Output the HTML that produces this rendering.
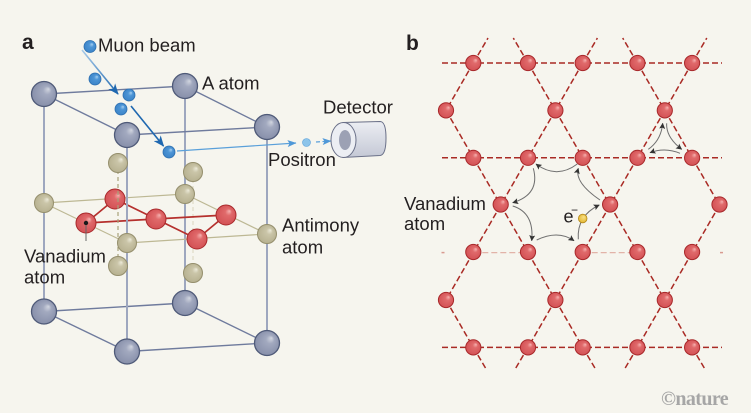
<!DOCTYPE html>
<html><head><meta charset="utf-8">
<style>
html,body{margin:0;padding:0;background:#f6f5ee;}
svg{display:block;}
text{font-family:"Liberation Sans",sans-serif;fill:#231f20;}
</style></head>
<body>
<svg width="751" height="413" viewBox="0 0 751 413" xmlns="http://www.w3.org/2000/svg">
<defs>
  <radialGradient id="gG" cx="0.5" cy="0.5" r="0.55" fx="0.68" fy="0.3">
    <stop offset="0" stop-color="#d2d6e0"/><stop offset="0.3" stop-color="#a2a9bf"/><stop offset="1" stop-color="#858da8"/>
  </radialGradient>
  <radialGradient id="gR" cx="0.5" cy="0.5" r="0.55" fx="0.68" fy="0.3">
    <stop offset="0" stop-color="#f6b4b2"/><stop offset="0.3" stop-color="#e06a6b"/><stop offset="1" stop-color="#d24f53"/>
  </radialGradient>
  <radialGradient id="gB" cx="0.5" cy="0.5" r="0.55" fx="0.68" fy="0.3">
    <stop offset="0" stop-color="#ecead9"/><stop offset="0.3" stop-color="#cac5a8"/><stop offset="1" stop-color="#b5af8e"/>
  </radialGradient>
  <radialGradient id="gU" cx="0.5" cy="0.5" r="0.55" fx="0.68" fy="0.3">
    <stop offset="0" stop-color="#a8d0f0"/><stop offset="0.35" stop-color="#4d95d6"/><stop offset="1" stop-color="#3a82c6"/>
  </radialGradient>
  <radialGradient id="gY" cx="0.5" cy="0.5" r="0.55" fx="0.65" fy="0.3">
    <stop offset="0" stop-color="#f8e18a"/><stop offset="1" stop-color="#e2b52c"/>
  </radialGradient>
  <linearGradient id="det" x1="0" y1="0" x2="0" y2="1">
    <stop offset="0" stop-color="#eceef3"/><stop offset="1" stop-color="#c4c8d5"/>
  </linearGradient>
  <linearGradient id="mu1" x1="0" y1="0" x2="1" y2="1">
    <stop offset="0" stop-color="#a9cbe9"/><stop offset="1" stop-color="#1f68b0"/>
  </linearGradient>
  <marker id="ab" markerWidth="11" markerHeight="9" refX="10" refY="4.5" orient="auto" markerUnits="userSpaceOnUse">
    <path d="M0,0 L11,4.5 L0,9 L3,4.5z" fill="#1f68b0"/>
  </marker>
  <marker id="ap" markerWidth="9" markerHeight="7" refX="8.5" refY="3.5" orient="auto" markerUnits="userSpaceOnUse">
    <path d="M0,0 L9,3.5 L0,7 L2,3.5z" fill="#4f98d8"/>
  </marker>
  <marker id="ak" markerWidth="6" markerHeight="6" refX="5.5" refY="3" orient="auto" markerUnits="userSpaceOnUse">
    <path d="M0,0 L6,3 L0,6 L1.2,3z" fill="#333"/>
  </marker>
</defs>

<rect width="751" height="413" fill="#f6f5ee"/>

<!-- ================= PANEL A ================= -->
<text x="22" y="49" style="font-weight:bold;font-size:21px">a</text>

<g stroke="#9ea7bf" stroke-width="2">
  <line x1="185" y1="86" x2="185" y2="303"/>
  <line x1="44" y1="94" x2="44" y2="311.5"/>
  <line x1="267" y1="127" x2="267" y2="343"/>
</g>
<g stroke="#6f7b9d" stroke-width="1.4">
  <line x1="44" y1="94" x2="185" y2="86"/>
  <line x1="44" y1="94" x2="127" y2="135"/>
  <line x1="127" y1="135" x2="267" y2="127"/>
  <line x1="185" y1="86" x2="267" y2="127"/>
  <line x1="44" y1="311.5" x2="185" y2="303"/>
  <line x1="44" y1="311.5" x2="127" y2="351.5"/>
  <line x1="127" y1="351.5" x2="267" y2="343"/>
  <line x1="185" y1="303" x2="267" y2="343"/>
</g>
<g stroke="#bdb894" stroke-width="1.2">
  <line x1="44" y1="203" x2="185" y2="194"/>
  <line x1="44" y1="203" x2="127" y2="243"/>
  <line x1="127" y1="243" x2="267" y2="234"/>
  <line x1="185" y1="194" x2="267" y2="234"/>
</g>
<line x1="193" y1="172" x2="193" y2="273" stroke="#dedac6" stroke-width="1.2" stroke-dasharray="4 3"/>
<circle cx="193" cy="172" r="9.5" fill="url(#gB)" stroke="#958f6d" stroke-width="1"/>
<circle cx="193" cy="273" r="9.5" fill="url(#gB)" stroke="#958f6d" stroke-width="1"/>
<circle cx="185" cy="194" r="9.5" fill="url(#gB)" stroke="#958f6d" stroke-width="1"/>
<circle cx="44" cy="203" r="9.5" fill="url(#gB)" stroke="#958f6d" stroke-width="1"/>
<circle cx="267" cy="234" r="9.5" fill="url(#gB)" stroke="#958f6d" stroke-width="1"/>

<g stroke="#b5302d" stroke-width="1.7">
  <line x1="86" y1="223" x2="115" y2="199"/>
  <line x1="115" y1="199" x2="156" y2="219"/>
  <line x1="156" y1="219" x2="197" y2="239"/>
  <line x1="197" y1="239" x2="226" y2="215"/>
  <line x1="86" y1="223" x2="226" y2="215"/>
</g>
<circle cx="115" cy="199" r="10" fill="url(#gR)" stroke="#a8292b" stroke-width="1"/>
<circle cx="226" cy="215" r="10" fill="url(#gR)" stroke="#a8292b" stroke-width="1"/>
<circle cx="156" cy="219" r="10" fill="url(#gR)" stroke="#a8292b" stroke-width="1"/>
<circle cx="86" cy="223" r="10" fill="url(#gR)" stroke="#a8292b" stroke-width="1"/>
<circle cx="197" cy="239" r="10" fill="url(#gR)" stroke="#a8292b" stroke-width="1"/>
<circle cx="86" cy="223" r="2.2" fill="#1a1a1a"/>
<line x1="86" y1="225" x2="86" y2="241" stroke="#666" stroke-width="1"/>

<line x1="127" y1="135" x2="127" y2="351.5" stroke="#9ea7bf" stroke-width="2"/>
<line x1="118" y1="163" x2="118" y2="266" stroke="#a8a27a" stroke-width="1.2" stroke-dasharray="4 3"/>
<circle cx="118" cy="163" r="9.5" fill="url(#gB)" stroke="#958f6d" stroke-width="1"/>
<circle cx="118" cy="266" r="9.5" fill="url(#gB)" stroke="#958f6d" stroke-width="1"/>
<circle cx="127" cy="243" r="9.5" fill="url(#gB)" stroke="#958f6d" stroke-width="1"/>

<g fill="url(#gG)" stroke="#4f5a78" stroke-width="1.3">
  <circle cx="44" cy="94" r="12.5"/>
  <circle cx="185" cy="86" r="12.5"/>
  <circle cx="127" cy="135" r="12.5"/>
  <circle cx="267" cy="127" r="12.5"/>
  <circle cx="44" cy="311.5" r="12.5"/>
  <circle cx="185" cy="303" r="12.5"/>
  <circle cx="127" cy="351.5" r="12.5"/>
  <circle cx="267" cy="343" r="12.5"/>
</g>

<line x1="82" y1="50" x2="118" y2="94" stroke="url(#mu1)" stroke-width="1.6" marker-end="url(#ab)"/>
<line x1="131" y1="106" x2="163.5" y2="146" stroke="#1f68b0" stroke-width="1.6" marker-end="url(#ab)"/>
<line x1="177" y1="151" x2="296" y2="143" stroke="#5aa0da" stroke-width="1.2" marker-end="url(#ap)"/>
<g fill="url(#gU)" stroke="#2d6fb0" stroke-width="0.8">
  <circle cx="90" cy="46.5" r="6"/>
  <circle cx="95" cy="79" r="6"/>
  <circle cx="129" cy="95" r="6"/>
  <circle cx="121" cy="109" r="6"/>
  <circle cx="169" cy="152" r="6"/>
</g>
<circle cx="306.5" cy="142.5" r="4" fill="#8cc4ea" stroke="#5aa0da" stroke-width="0.6"/>
<line x1="316" y1="142" x2="331" y2="141" stroke="#5aa0da" stroke-width="1.2" stroke-dasharray="4 2.5" marker-end="url(#ap)"/>

<path d="M343,122.5 L380,121.5 Q386,121.5 386,138 Q386,155 380,155.5 L343,157.5 Z" fill="url(#det)" stroke="#6a7088" stroke-width="1"/>
<ellipse cx="343.5" cy="140" rx="12.5" ry="17.5" fill="#eceef3" stroke="#6a7088" stroke-width="1"/>
<ellipse cx="345" cy="140" rx="6" ry="10" fill="#9ca1b4"/>

<g style="font-size:18.5px">
  <text x="98" y="51.7">Muon beam</text>
  <text x="202" y="89.3">A atom</text>
  <text x="323" y="113.3">Detector</text>
  <text x="268" y="166">Positron</text>
  <text x="282" y="231.7">Antimony</text>
  <text x="282" y="253.5">atom</text>
  <text x="24" y="262.7">Vanadium</text>
  <text x="24" y="283.5">atom</text>
</g>

<!-- ================= PANEL B ================= -->
<text x="406" y="50" style="font-weight:bold;font-size:21px">b</text>

<g stroke="#a92a24" stroke-width="1.5" stroke-dasharray="6 3" fill="none">
  <line x1="442" y1="63" x2="722" y2="63"/>
  <line x1="442" y1="157.8" x2="722" y2="157.8"/>
  <line x1="442" y1="347.4" x2="722" y2="347.4"/>
  <line x1="473.3" y1="63" x2="488" y2="38"/>
  <line x1="528" y1="63" x2="513.3" y2="38"/>
  <line x1="582.7" y1="63" x2="597.4" y2="38"/>
  <line x1="637.4" y1="63" x2="622.7" y2="38"/>
  <line x1="692.1" y1="63" x2="706.8" y2="38"/>
  <line x1="473.3" y1="63" x2="446" y2="110.4"/>
  <line x1="528" y1="63" x2="555.4" y2="110.4"/>
  <line x1="582.7" y1="63" x2="555.4" y2="110.4"/>
  <line x1="637.4" y1="63" x2="664.8" y2="110.4"/>
  <line x1="692.1" y1="63" x2="664.8" y2="110.4"/>
  <line x1="446" y1="110.4" x2="473.3" y2="157.8"/>
  <line x1="555.4" y1="110.4" x2="528" y2="157.8"/>
  <line x1="555.4" y1="110.4" x2="582.7" y2="157.8"/>
  <line x1="664.8" y1="110.4" x2="637.4" y2="157.8"/>
  <line x1="664.8" y1="110.4" x2="692.1" y2="157.8"/>
  <line x1="473.3" y1="157.8" x2="500.7" y2="205.2"/>
  <line x1="528" y1="157.8" x2="500.7" y2="205.2"/>
  <line x1="582.7" y1="157.8" x2="610.1" y2="205.2"/>
  <line x1="637.4" y1="157.8" x2="610.1" y2="205.2"/>
  <line x1="692.1" y1="157.8" x2="719.5" y2="205.2"/>
  <line x1="500.7" y1="205.2" x2="473.3" y2="252.6"/>
  <line x1="500.7" y1="205.2" x2="528" y2="252.6"/>
  <line x1="610.1" y1="205.2" x2="582.7" y2="252.6"/>
  <line x1="610.1" y1="205.2" x2="637.4" y2="252.6"/>
  <line x1="719.5" y1="205.2" x2="692.1" y2="252.6"/>
  <line x1="473.3" y1="252.6" x2="446" y2="300"/>
  <line x1="528" y1="252.6" x2="555.4" y2="300"/>
  <line x1="582.7" y1="252.6" x2="555.4" y2="300"/>
  <line x1="637.4" y1="252.6" x2="664.8" y2="300"/>
  <line x1="692.1" y1="252.6" x2="664.8" y2="300"/>
  <line x1="446" y1="300" x2="473.3" y2="347.4"/>
  <line x1="555.4" y1="300" x2="528" y2="347.4"/>
  <line x1="555.4" y1="300" x2="582.7" y2="347.4"/>
  <line x1="664.8" y1="300" x2="637.4" y2="347.4"/>
  <line x1="664.8" y1="300" x2="692.1" y2="347.4"/>
  <line x1="473.3" y1="347.4" x2="485.5" y2="368"/>
  <line x1="528" y1="347.4" x2="515.8" y2="368"/>
  <line x1="582.7" y1="347.4" x2="594.9" y2="368"/>
  <line x1="637.4" y1="347.4" x2="625.2" y2="368"/>
  <line x1="692.1" y1="347.4" x2="704.3" y2="368"/>
</g>
<g stroke="#e2b3a8" stroke-width="1.3" stroke-dasharray="6 3">
  <line x1="473.3" y1="252.6" x2="528" y2="252.6"/>
  <line x1="582.7" y1="252.6" x2="637.4" y2="252.6"/>
</g>
<g stroke="#d89a90" stroke-width="1.5">
  <line x1="441.5" y1="252.6" x2="444.5" y2="252.6"/>
  <line x1="720" y1="252.6" x2="723" y2="252.6"/>
</g>

<g stroke="#707070" stroke-width="1" fill="none" marker-end="url(#ak)">
  <path d="M577.3,164 Q556.7,179.4 536,164"/>
  <path d="M533.3,168.3 Q540.4,194.5 512.7,202.7"/>
  <path d="M512.7,206 Q534.4,212.6 531.7,240.7"/>
  <path d="M536.7,240 Q558,229.6 574,240.7"/>
  <path d="M578.3,239.3 Q576.6,215.8 599.3,205"/>
  <path d="M600,200 Q574.2,182.4 578.3,168.3"/>
  <path d="M648.3,149.3 Q661.1,140.3 662.7,123.3"/>
  <path d="M666.7,123.3 Q665.8,137.1 681.7,149.3"/>
  <path d="M680,153.3 Q665,147 650,152.7"/>
</g>

<g fill="url(#gR)" stroke="#a8292b" stroke-width="1">
  <circle cx="473.3" cy="63" r="7.6"/><circle cx="528" cy="63" r="7.6"/><circle cx="582.7" cy="63" r="7.6"/><circle cx="637.4" cy="63" r="7.6"/><circle cx="692.1" cy="63" r="7.6"/>
  <circle cx="446" cy="110.4" r="7.6"/><circle cx="555.4" cy="110.4" r="7.6"/><circle cx="664.8" cy="110.4" r="7.6"/>
  <circle cx="473.3" cy="157.8" r="7.6"/><circle cx="528" cy="157.8" r="7.6"/><circle cx="582.7" cy="157.8" r="7.6"/><circle cx="637.4" cy="157.8" r="7.6"/><circle cx="692.1" cy="157.8" r="7.6"/>
  <circle cx="500.7" cy="204.5" r="7.6"/><circle cx="610.1" cy="204.5" r="7.6"/><circle cx="719.5" cy="204.5" r="7.6"/>
  <circle cx="473.3" cy="252" r="7.6"/><circle cx="528" cy="252" r="7.6"/><circle cx="582.7" cy="252" r="7.6"/><circle cx="637.4" cy="252" r="7.6"/><circle cx="692.1" cy="252" r="7.6"/>
  <circle cx="446" cy="300" r="7.6"/><circle cx="555.4" cy="300" r="7.6"/><circle cx="664.8" cy="300" r="7.6"/>
  <circle cx="473.3" cy="347.4" r="7.6"/><circle cx="528" cy="347.4" r="7.6"/><circle cx="582.7" cy="347.4" r="7.6"/><circle cx="637.4" cy="347.4" r="7.6"/><circle cx="692.1" cy="347.4" r="7.6"/>
</g>

<circle cx="582.7" cy="218.5" r="4.3" fill="url(#gY)" stroke="#b58a1c" stroke-width="0.8"/>
<text x="563.5" y="222.7" style="font-size:18px">e</text>
<text x="571" y="214" style="font-size:12px">−</text>

<g style="font-size:18.5px">
  <text x="404" y="210">Vanadium</text>
  <text x="404" y="230">atom</text>
</g>

<text x="661" y="405" style="font-family:'Liberation Serif',serif;font-weight:bold;font-size:20px;fill:#a6a6a6;letter-spacing:-0.6px">©nature</text>
</svg>
</body></html>
